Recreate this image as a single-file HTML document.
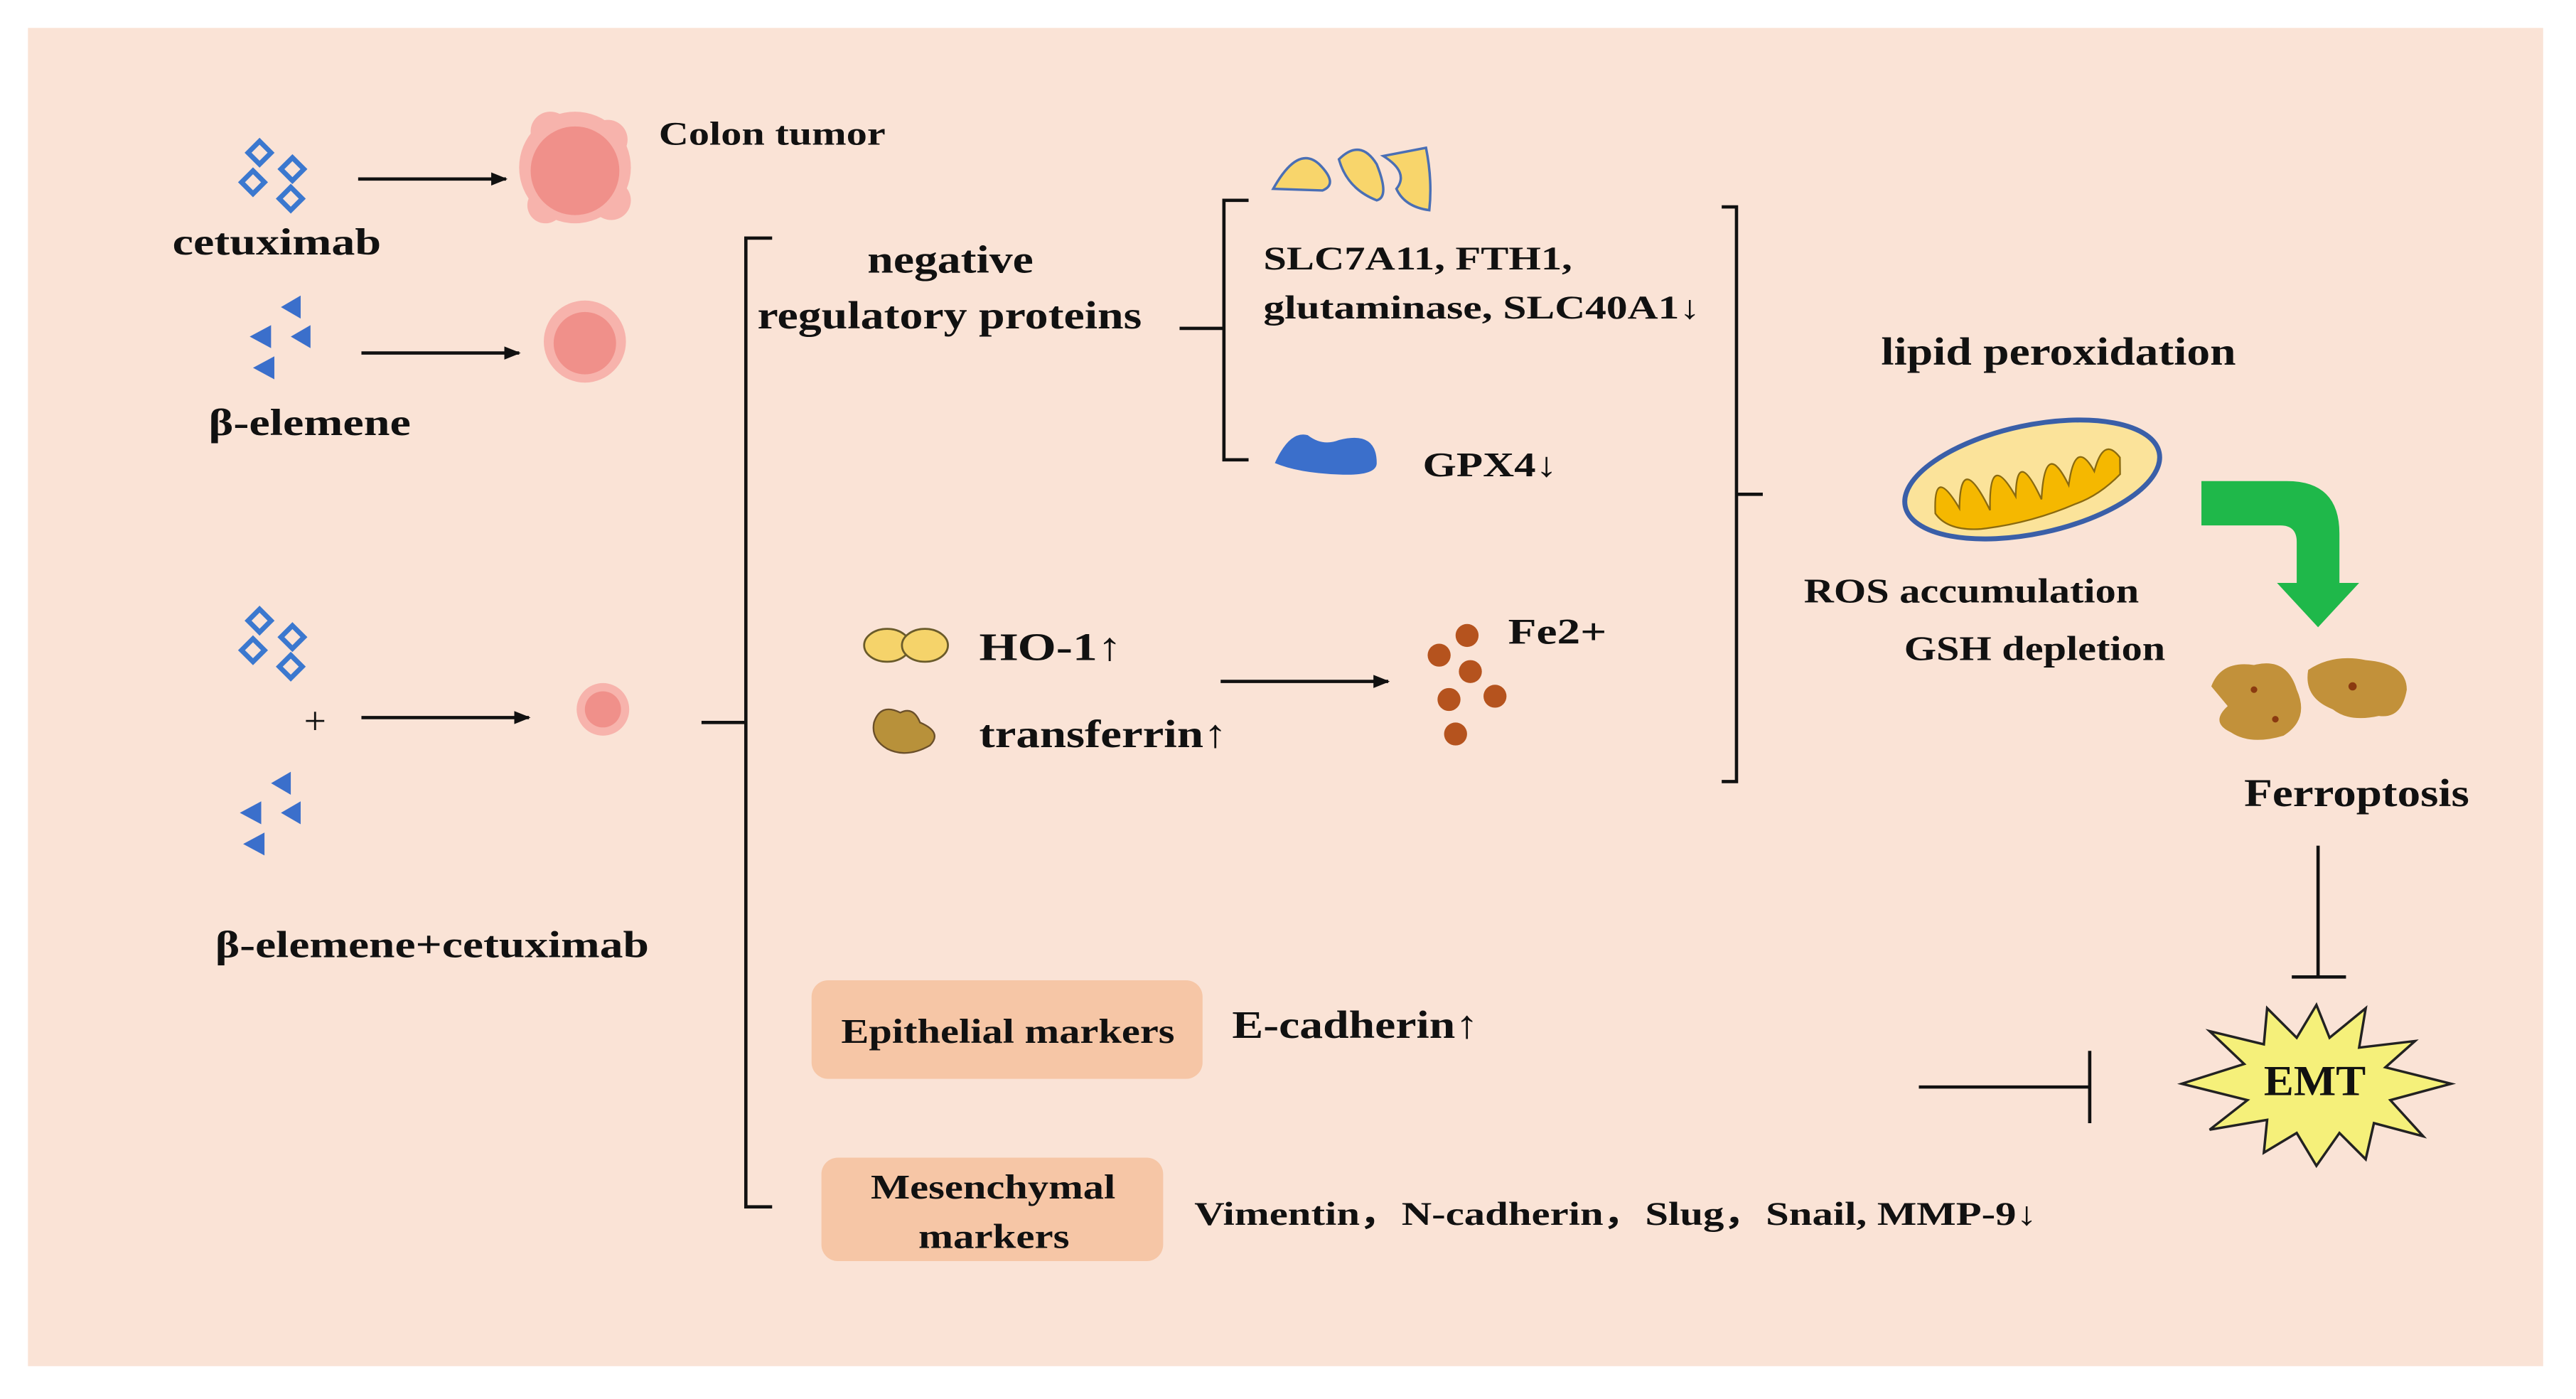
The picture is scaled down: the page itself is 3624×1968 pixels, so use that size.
<!DOCTYPE html>
<html><head><meta charset="utf-8"><style>
html,body{margin:0;padding:0;background:#fff;width:3624px;height:1968px;overflow:hidden}
svg{display:block}
text{font-family:"Liberation Serif","DejaVu Serif",serif;font-weight:bold;fill:#111}
</style></head><body>
<svg width="3624" height="1968" viewBox="0 0 1568 852" preserveAspectRatio="none" xmlns="http://www.w3.org/2000/svg">
<defs>
<marker id="ah" markerWidth="10" markerHeight="8" refX="9" refY="4" orient="auto" markerUnits="userSpaceOnUse"><path d="M0,0 L10,4 L0,8 Z" fill="#111"/></marker>
<g id="dia" fill="none" stroke="#3B78CF" stroke-width="3">
<path d="M158,86 l7,7 l-7,7 l-7,-7z"/><path d="M178,96 l7,7 l-7,7 l-7,-7z"/><path d="M154,104 l7,7 l-7,7 l-7,-7z"/><path d="M177,114 l7,7 l-7,7 l-7,-7z"/>
</g>
<g id="tri" fill="#3B6FCB">
<path d="M183,180 l0,14 l-12,-7z"/><path d="M165,198 l0,14 l-13,-7z"/><path d="M189,198 l0,14 l-12,-7z"/><path d="M167,217 l0,14 l-13,-7z"/>
</g>
</defs>
<rect x="0" y="0" width="1568" height="852" fill="#fff"/>
<rect x="17" y="17" width="1531" height="815" fill="#FAE3D6"/>

<use href="#dia"/>
<line x1="218" y1="109" x2="308" y2="109" stroke="#111" stroke-width="2" marker-end="url(#ah)"/>
<g fill="#F7B3AC"><circle cx="350" cy="102" r="34"/><circle cx="335" cy="80" r="12"/><circle cx="370" cy="85" r="12"/><circle cx="332" cy="125" r="11"/><circle cx="372" cy="122" r="12"/></g>
<g fill="#F0908A"><circle cx="350" cy="104" r="27"/></g>
<text x="401" y="88" font-size="20" textLength="138" lengthAdjust="spacingAndGlyphs">Colon tumor</text>
<text x="105" y="155" font-size="23" textLength="127" lengthAdjust="spacingAndGlyphs">cetuximab</text>

<use href="#tri"/>
<line x1="220" y1="215" x2="316" y2="215" stroke="#111" stroke-width="2" marker-end="url(#ah)"/>
<circle cx="356" cy="208" r="25" fill="#F7B3AC"/><circle cx="356" cy="209" r="19" fill="#F0908A"/>
<text x="127" y="265" font-size="23" textLength="123" lengthAdjust="spacingAndGlyphs">β-elemene</text>

<use href="#dia" transform="translate(0,285)"/>
<text x="185" y="447" font-size="24" style="font-weight:normal">+</text>
<line x1="220" y1="437" x2="322" y2="437" stroke="#111" stroke-width="2" marker-end="url(#ah)"/>
<circle cx="367" cy="432" r="16" fill="#F7B3AC"/><circle cx="367" cy="432" r="11" fill="#F0908A"/>
<use href="#tri" transform="translate(-6,290)"/>
<text x="131" y="583" font-size="23" textLength="264" lengthAdjust="spacingAndGlyphs">β-elemene+cetuximab</text>

<path d="M470,145 L454,145 L454,735 L470,735 M427,440 L454,440" fill="none" stroke="#111" stroke-width="2"/>
<text x="528" y="166" font-size="24" textLength="101" lengthAdjust="spacingAndGlyphs">negative</text>
<text x="461" y="200" font-size="24" textLength="234" lengthAdjust="spacingAndGlyphs">regulatory proteins</text>

<path d="M760,122 L745,122 L745,280 L760,280 M718,200 L745,200" fill="none" stroke="#111" stroke-width="2"/>
<path d="M775,115 Q790,88 803,100 Q815,112 805,116 Z" fill="#F8D56B" stroke="#4A6FB5" stroke-width="1.5"/>
<path d="M815,97 Q828,84 838,100 Q846,120 838,122 Q820,115 815,97Z" fill="#F8D56B" stroke="#4A6FB5" stroke-width="1.5"/>
<path d="M842,95 L868,90 Q872,110 870,128 Q855,126 850,115 Q858,105 842,95Z" fill="#F8D56B" stroke="#4A6FB5" stroke-width="1.5"/>
<text x="769" y="164" font-size="20" textLength="188" lengthAdjust="spacingAndGlyphs">SLC7A11, FTH1,</text>
<text x="769" y="194" font-size="20" textLength="266" lengthAdjust="spacingAndGlyphs">glutaminase, SLC40A1↓</text>
<path d="M776,282 Q785,262 796,265 Q805,272 815,268 Q838,262 838,282 Q838,290 815,289 Q790,288 776,282Z" fill="#3B6FCB"/>
<text x="866" y="290" font-size="21" textLength="82" lengthAdjust="spacingAndGlyphs">GPX4↓</text>

<ellipse cx="540" cy="393" rx="14" ry="10" fill="#F5D36A" stroke="#6A5B2A" stroke-width="1.2"/>
<ellipse cx="563" cy="393" rx="14" ry="10" fill="#F5D36A" stroke="#6A5B2A" stroke-width="1.2"/>
<text x="596" y="402" font-size="24" textLength="87" lengthAdjust="spacingAndGlyphs">HO-1↑</text>
<path d="M532,440 Q536,428 548,434 Q556,430 560,440 Q574,446 566,454 Q552,462 540,456 Q530,450 532,440Z" fill="#B8913A" stroke="#6A4F2A" stroke-width="1"/>
<text x="596" y="455" font-size="24" textLength="151" lengthAdjust="spacingAndGlyphs">transferrin↑</text>
<line x1="743" y1="415" x2="845" y2="415" stroke="#111" stroke-width="2" marker-end="url(#ah)"/>
<g fill="#B5531E"><circle cx="893" cy="387" r="7"/><circle cx="876" cy="399" r="7"/><circle cx="895" cy="409" r="7"/><circle cx="882" cy="426" r="7"/><circle cx="910" cy="424" r="7"/><circle cx="886" cy="447" r="7"/></g>
<text x="918" y="392" font-size="22" textLength="60" lengthAdjust="spacingAndGlyphs">Fe2+</text>

<path d="M1048,126 L1057,126 L1057,476 L1048,476 M1057,301 L1073,301" fill="none" stroke="#111" stroke-width="2"/>
<text x="1145" y="222" font-size="24" textLength="216" lengthAdjust="spacingAndGlyphs">lipid peroxidation</text>
<g transform="rotate(-12 1237 292)">
<ellipse cx="1237" cy="292" rx="79" ry="33" fill="#FBE39A" stroke="#3A5FA8" stroke-width="3"/>
<path d="M1175,300 Q1180,270 1190,300 Q1198,265 1208,305 Q1215,268 1225,300 Q1232,270 1240,305 Q1250,268 1258,300 Q1268,272 1275,295 Q1285,275 1292,290 L1290,300 Q1275,310 1260,312 Q1230,318 1200,315 Q1180,312 1175,300Z" fill="#F5B800" stroke="#8A6A10" stroke-width="1"/>
</g>
<text x="1098" y="367" font-size="21" textLength="204" lengthAdjust="spacingAndGlyphs">ROS accumulation</text>
<text x="1159" y="402" font-size="21" textLength="159" lengthAdjust="spacingAndGlyphs">GSH depletion</text>
<path d="M1340,293 L1392,293 Q1424,293 1424,325 L1424,355 L1436,355 L1411,382 L1386,355 L1398,355 L1398,330 Q1398,320 1388,320 L1340,320 Z" fill="#1FB84A"/>
<path d="M1346,418 Q1352,402 1372,405 Q1392,400 1398,420 Q1406,438 1390,448 Q1370,454 1358,446 Q1345,440 1356,430Z" fill="#C2913A"/>
<path d="M1405,408 Q1420,398 1440,402 Q1465,404 1465,420 Q1462,438 1448,436 Q1430,440 1420,432 Q1402,425 1405,408Z" fill="#C2913A"/>
<g fill="#8A3A10"><circle cx="1372" cy="420" r="2"/><circle cx="1432" cy="418" r="2.5"/><circle cx="1385" cy="438" r="2"/></g>
<text x="1366" y="491" font-size="24" textLength="137" lengthAdjust="spacingAndGlyphs">Ferroptosis</text>
<path d="M1411,515 L1411,595 M1395,595 L1428,595" fill="none" stroke="#111" stroke-width="2"/>

<path d="M1410,612 L1418,632 L1440,614 L1436,638 L1470,634 L1452,650 L1492,660 L1455,670 L1475,692 L1445,684 L1440,706 L1424,690 L1410,710 L1398,690 L1378,702 L1380,682 L1345,688 L1368,670 L1328,660 L1366,648 L1345,628 L1378,636 L1380,614 L1398,632 Z" fill="#F5F07A" stroke="#222" stroke-width="1.5"/>
<text x="1378" y="667" font-size="26" textLength="62" lengthAdjust="spacingAndGlyphs">EMT</text>
<path d="M1168,662 L1272,662 M1272,640 L1272,684" fill="none" stroke="#111" stroke-width="2"/>

<rect x="494" y="597" width="238" height="60" rx="10" fill="#F6C6A6"/>
<text x="512" y="635" font-size="21" textLength="203" lengthAdjust="spacingAndGlyphs">Epithelial markers</text>
<text x="750" y="632" font-size="24" textLength="150" lengthAdjust="spacingAndGlyphs">E-cadherin↑</text>
<rect x="500" y="705" width="208" height="63" rx="10" fill="#F6C6A6"/>
<text x="530" y="730" font-size="21" textLength="149" lengthAdjust="spacingAndGlyphs">Mesenchymal</text>
<text x="559" y="760" font-size="21" textLength="92" lengthAdjust="spacingAndGlyphs">markers</text>
<text x="727" y="746" font-size="20" textLength="513" lengthAdjust="spacingAndGlyphs">Vimentin，N-cadherin，Slug，Snail, MMP-9↓</text>
</svg>
</body></html>
